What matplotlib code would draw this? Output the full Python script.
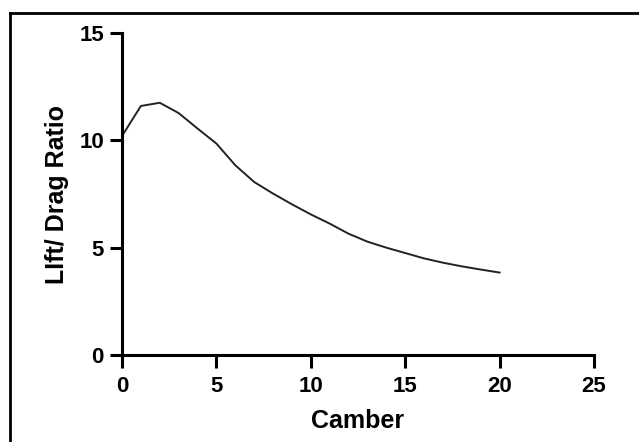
import matplotlib
matplotlib.use("Agg")
import matplotlib.pyplot as plt
from matplotlib.lines import Line2D

camber = [0, 1, 2, 3, 4, 5, 6, 7, 8, 9, 10, 11, 12, 13, 14, 15, 16, 17, 18, 19, 20]
lift_drag = [10.2, 11.6, 11.75, 11.27, 10.55, 9.85, 8.84, 8.06, 7.52, 7.02, 6.55,
             6.12, 5.65, 5.28, 5.0, 4.75, 4.5, 4.3, 4.13, 3.98, 3.84]
xticks = [0, 5, 10, 15, 20, 25]
yticks = [0, 5, 10, 15]

plt.rcParams['font.family'] = ['Liberation Sans', 'DejaVu Sans']

fig = plt.figure(figsize=(6.39, 4.42), dpi=100)
ax = fig.add_axes([122/639, 1-355/442, (594-122)/639, (355-33)/442])

ax.plot(camber, lift_drag, color='#222222', lw=1.4)
ax.set_xlim(0, 25)
ax.set_ylim(0, 15)
ax.set_xticks(xticks)
ax.set_yticks(yticks)
for s in ['top', 'right']:
    ax.spines[s].set_visible(False)
for s in ['left', 'bottom']:
    ax.spines[s].set_linewidth(2.2)
    ax.spines[s].set_color('black')
ax.tick_params(width=2.2, length=9, labelsize=16)
ax.tick_params(axis='x', pad=6)
ax.tick_params(axis='y', pad=4)
for lab in ax.get_xticklabels() + ax.get_yticklabels():
    lab.set_fontweight('bold')
ax.set_xlabel('Camber', fontsize=18, fontweight='bold', labelpad=9)
ax.set_ylabel('LIft/ Drag Ratio', fontsize=18, fontweight='bold', labelpad=7)

# figure frame (left and top edges)
x0 = 9.5/639
y0 = 1 - 12.5/442
fig.add_artist(Line2D([x0, x0], [0, y0], transform=fig.transFigure, color='black', lw=2))
fig.add_artist(Line2D([x0, 1], [y0, y0], transform=fig.transFigure, color='black', lw=2))

fig.savefig('out.png', dpi=100)
